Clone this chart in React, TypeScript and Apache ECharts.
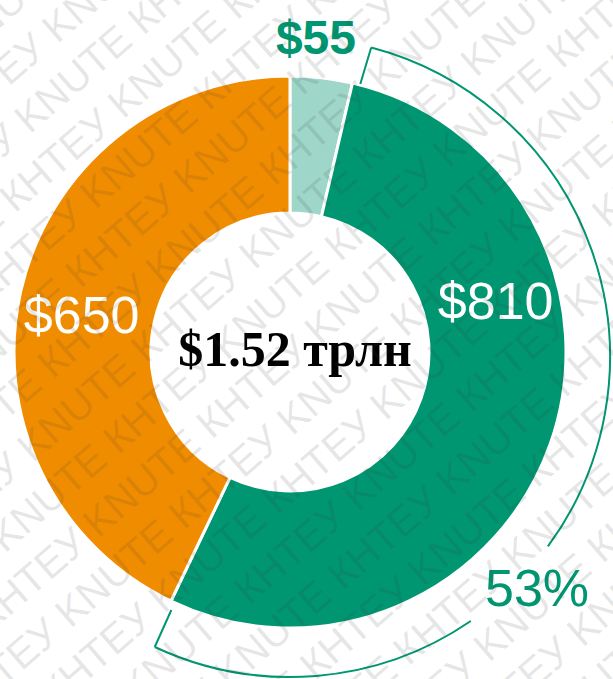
import React, { useEffect, useRef } from "react";
import * as echarts from "echarts";

const categories = ["Other", "Segment A", "Segment B"];
const values = [55, 810, 650];
const valueLabels = ["$55", "$810", "$650"];
const totalLabel = "$1.52 трлн";
const shareLabel = "53%";
const watermarkWords = ["KNUTE", "КНТЕУ"];

const COLORS = ["#9ed6c9", "#009671", "#f08c00"];
const TEAL = "#009671";

export default function App() {
  const ref = useRef<HTMLDivElement>(null);
  useEffect(() => {
    document.body.style.margin = "0";
    const chart = echarts.init(ref.current!, null, { renderer: "svg" });
    const W = 613, H = 679;
    const cx = 290, cy = 352;
    const rIn = 139, rOut = 276;

    // bracket around the $810 slice
    const bcx = 290, bcy = 357, br = 320;
    const topDeg = 14.7, botDeg = 205;
    const pt = (x0: number, y0: number, r: number, deg: number) => {
      const a = (deg * Math.PI) / 180;
      return [x0 + r * Math.sin(a), y0 - r * Math.cos(a)];
    };
    const toZr = (deg: number) => ((deg - 90) * Math.PI) / 180;
    const topInner = pt(cx, cy, 277, topDeg);
    const topOuter = pt(bcx, bcy, br, topDeg);
    const botInner = pt(cx, cy, 284, botDeg - 0.3);
    const botOuter = pt(bcx, bcy, br, botDeg);
    const gapStart = 126.3, gapEnd = 145.6;

    const bracketStyle = { stroke: TEAL, lineWidth: 2, fill: "none" };

    // watermark rows
    const wm: any[] = [];
    const ang = (41 * Math.PI) / 180;
    const vx = Math.sin(ang), vy = Math.cos(ang);
    const ux = Math.cos(ang), uy = -Math.sin(ang);
    const spacing = 50;
    for (let k = -13; k <= 13; k++) {
      const parts: string[] = [];
      for (let i = 0; i < 12; i++) parts.push(watermarkWords[(i + (k & 1)) % 2]);
      const shift = (k % 2 === 0 ? 0 : 70);
      const px = W / 2 + k * spacing * vx + shift * ux;
      const py = H / 2 + k * spacing * vy + shift * uy;
      wm.push({
        type: "text",
        x: px,
        y: py,
        rotation: ang,
        z: 100,
        silent: true,
        style: {
          text: parts.join(" "),
          fill: "rgba(60,60,60,0.13)",
          font: "41px 'Liberation Sans', Arial, sans-serif",
          align: "center",
          verticalAlign: "middle",
        },
      });
    }

    const labelOffsets = [[2, -105], [7, -121], [-3, 10]];
    const labelStyles = [
      { color: TEAL, fontWeight: "bold", fontSize: 48, fontFamily: "'Liberation Sans', Arial, sans-serif" },
      { color: "#ffffff", fontWeight: "normal", fontSize: 52, fontFamily: "'Liberation Sans', Arial, sans-serif" },
      { color: "#ffffff", fontWeight: "normal", fontSize: 52, fontFamily: "'Liberation Sans', Arial, sans-serif" },
    ];

    chart.setOption({
      animation: false,
      backgroundColor: "#ffffff",
      series: [
        {
          type: "pie",
          center: [cx, cy],
          radius: [rIn, rOut],
          startAngle: 90,
          clockwise: true,
          silent: true,
          itemStyle: { borderColor: "#ffffff", borderWidth: 3 },
          labelLine: { show: false },
          data: values.map((v, i) => ({
            name: categories[i],
            value: v,
            itemStyle: { color: COLORS[i] },
            label: {
              show: true,
              position: "inside",
              formatter: valueLabels[i],
              offset: labelOffsets[i],
              ...labelStyles[i],
            },
          })),
        },
      ],
      graphic: [
        {
          type: "text",
          x: 295,
          y: 349,
          z: 50,
          style: {
            text: totalLabel,
            fill: "#000000",
            font: "bold 50px 'Liberation Serif', 'Times New Roman', serif",
            align: "center",
            verticalAlign: "middle",
          },
        },
        {
          type: "polyline",
          z: 50,
          shape: { points: [topInner, topOuter] },
          style: bracketStyle,
        },
        {
          type: "arc",
          z: 50,
          shape: { cx: bcx, cy: bcy, r: br, startAngle: toZr(topDeg), endAngle: toZr(gapStart), clockwise: true },
          style: bracketStyle,
        },
        {
          type: "arc",
          z: 50,
          shape: { cx: bcx, cy: bcy, r: br, startAngle: toZr(gapEnd), endAngle: toZr(botDeg), clockwise: true },
          style: bracketStyle,
        },
        {
          type: "polyline",
          z: 50,
          shape: { points: [botOuter, botInner] },
          style: bracketStyle,
        },
        {
          type: "text",
          x: 537,
          y: 588,
          z: 50,
          style: {
            text: shareLabel,
            fill: TEAL,
            font: "52px 'Liberation Sans', Arial, sans-serif",
            align: "center",
            verticalAlign: "middle",
          },
        },
        ...wm,
      ],
    });
    return () => chart.dispose();
  }, []);
  return <div ref={ref} style={{ width: 613, height: 679 }} />;
}
